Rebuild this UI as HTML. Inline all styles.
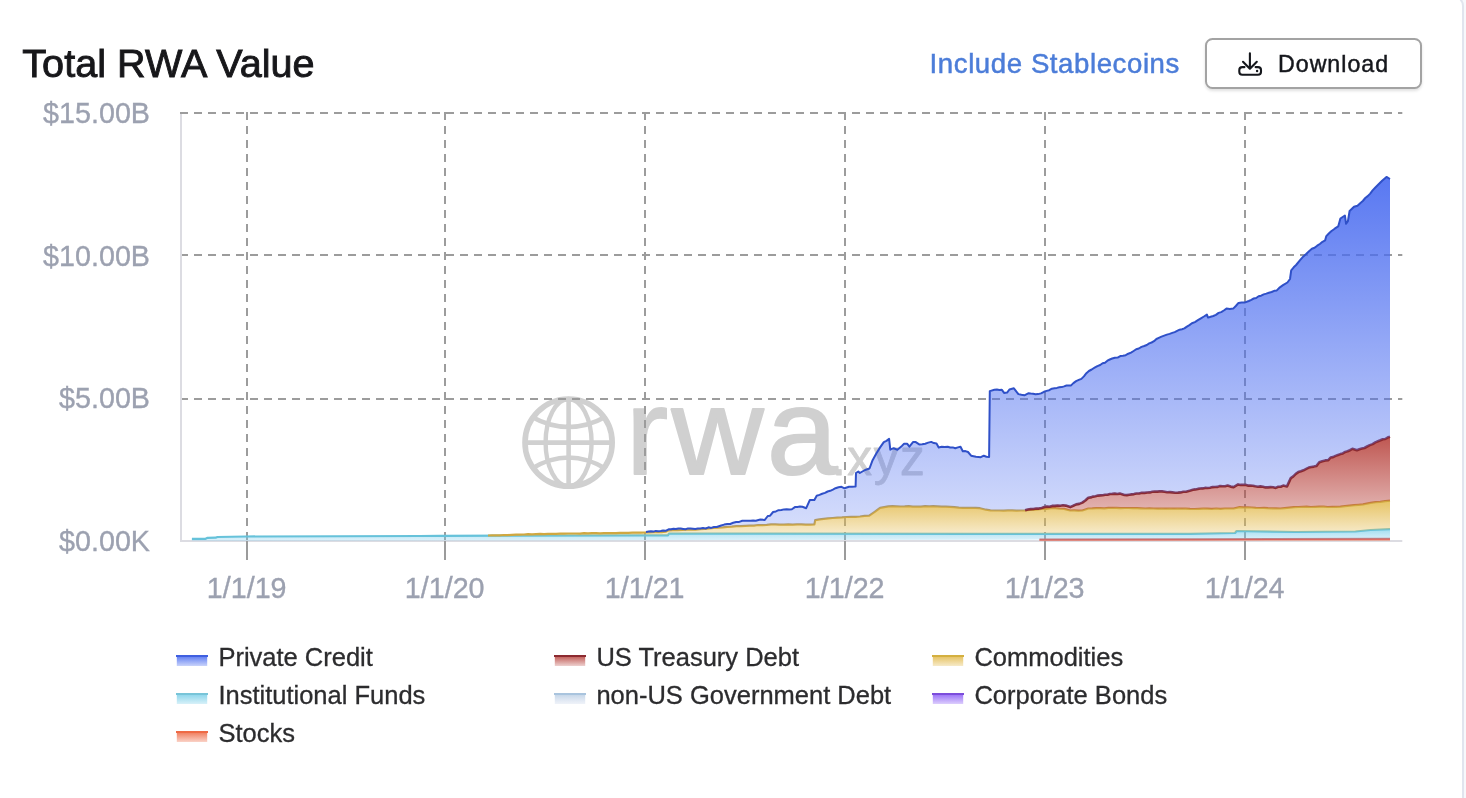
<!DOCTYPE html>
<html lang="en"><head><meta charset="utf-8"><title>Total RWA Value</title>
<style>
html,body{margin:0;padding:0}
body{width:1466px;height:798px;overflow:hidden;background:#f7f8fc;position:relative;font-family:"Liberation Sans",sans-serif}
.card{position:absolute;left:-20px;top:-5px;width:1484px;height:900px;background:#fff;border:2px solid #e1e4ee;border-radius:0 11px 0 0;box-sizing:border-box}
h1{position:absolute;left:22.3px;top:40px;margin:0;font-size:39.6px;line-height:46px;font-weight:400;color:#17171a;-webkit-text-stroke:0.9px #17171a;letter-spacing:0.03px;white-space:nowrap}
.inc{position:absolute;left:929.6px;top:47.6px;font-size:27.6px;line-height:32px;color:#4c7dd9;white-space:nowrap;-webkit-text-stroke:0.5px #4b7cd8;letter-spacing:0.58px}
.btn{position:absolute;left:1205.1px;top:38.2px;width:216.7px;height:51px;box-sizing:border-box;border:2px solid #a3a3a3;border-radius:7.5px;background:#fff;box-shadow:0 2px 3px rgba(0,0,0,.12)}
.btn span{position:absolute;left:70.9px;top:7.4px;font-size:23.2px;line-height:32px;color:#15171c;-webkit-text-stroke:0.45px #15171c;white-space:nowrap;letter-spacing:1px}
.btn svg{position:absolute;left:31px;top:11px}
svg.chart{position:absolute;left:0;top:0}
</style></head><body>
<div class="card"></div>
<h1>Total RWA Value</h1>
<div class="inc">Include Stablecoins</div>
<div class="btn"><span>Download</span></div>
<svg class="chart" width="1466" height="798" viewBox="0 0 1466 798" font-family="Liberation Sans, sans-serif">
<defs>
<linearGradient id="gBlue" x1="0" y1="0" x2="0" y2="1"><stop offset="0" stop-color="#4a6cf0" stop-opacity=".92"/><stop offset="1" stop-color="#4a6cf0" stop-opacity=".22"/></linearGradient>
<linearGradient id="gRed" x1="0" y1="0" x2="0" y2="1"><stop offset="0" stop-color="#b8443e" stop-opacity=".9"/><stop offset="1" stop-color="#b8443e" stop-opacity=".4"/></linearGradient>
<linearGradient id="gYel" x1="0" y1="0" x2="0" y2="1"><stop offset="0" stop-color="#e2b94a" stop-opacity=".85"/><stop offset="1" stop-color="#e2b94a" stop-opacity=".25"/></linearGradient>
<linearGradient id="gCy" x1="0" y1="0" x2="0" y2="1"><stop offset="0" stop-color="#62c6e4" stop-opacity=".6"/><stop offset="1" stop-color="#7fcdf0" stop-opacity=".25"/></linearGradient>
<linearGradient id="gSt" x1="0" y1="0" x2="0" y2="1"><stop offset="0" stop-color="#ee6a45" stop-opacity=".8"/><stop offset="1" stop-color="#ee6a45" stop-opacity=".3"/></linearGradient>
<linearGradient id="lgBlue" x1="0" y1="0" x2="0" y2="1"><stop offset="0" stop-color="#4a6cf0" stop-opacity=".95"/><stop offset="1" stop-color="#4a6cf0" stop-opacity=".3"/></linearGradient>
<linearGradient id="lgRed" x1="0" y1="0" x2="0" y2="1"><stop offset="0" stop-color="#b8443e" stop-opacity=".95"/><stop offset="1" stop-color="#b8443e" stop-opacity=".25"/></linearGradient>
<linearGradient id="lgYel" x1="0" y1="0" x2="0" y2="1"><stop offset="0" stop-color="#e2b94a" stop-opacity=".95"/><stop offset="1" stop-color="#e2b94a" stop-opacity=".3"/></linearGradient>
<linearGradient id="lgCy" x1="0" y1="0" x2="0" y2="1"><stop offset="0" stop-color="#62c6e4" stop-opacity=".8"/><stop offset="1" stop-color="#62c6e4" stop-opacity=".25"/></linearGradient>
<linearGradient id="lgNon" x1="0" y1="0" x2="0" y2="1"><stop offset="0" stop-color="#a9c4de" stop-opacity=".8"/><stop offset="1" stop-color="#c9d4ea" stop-opacity=".3"/></linearGradient>
<linearGradient id="lgCorp" x1="0" y1="0" x2="0" y2="1"><stop offset="0" stop-color="#8b5cf6" stop-opacity=".95"/><stop offset="1" stop-color="#8b5cf6" stop-opacity=".3"/></linearGradient>
<linearGradient id="lgSt" x1="0" y1="0" x2="0" y2="1"><stop offset="0" stop-color="#ee6a45" stop-opacity=".95"/><stop offset="1" stop-color="#ee6a45" stop-opacity=".3"/></linearGradient>
</defs>
<g fill="#d0d0d0" stroke="#d0d0d0" stroke-linejoin="round"><text transform="translate(625.7,474.4) scale(1.045,1)" x="0" y="0" font-size="122" letter-spacing="3.1" stroke-width="1.8">rwa</text><text x="832" y="474.6" font-size="49.5" letter-spacing="1.6" stroke-width="0.8">.xyz</text></g>
<g fill="none" stroke="#d0d0d0"><circle cx="568.6" cy="442.6" r="43.6" stroke-width="5.6"/><ellipse cx="568.6" cy="442.6" rx="23" ry="43.6" stroke-width="4.4"/><path d="M568.6 399V486.2M525 442.6H612.2M531 416.5Q568.6 437.5 606.2 416.5M531 469Q568.6 446 606.2 469" stroke-width="4.6"/></g>
<g stroke="#9c9c9c" stroke-width="2" stroke-dasharray="8 6" fill="none"><line x1="180" x2="1402.3" y1="113.00" y2="113.00"/><line x1="180" x2="1402.3" y1="255.00" y2="255.00"/><line x1="180" x2="1402.3" y1="399.00" y2="399.00"/><line x1="247" x2="247" y1="112" y2="541"/><line x1="445" x2="445" y1="112" y2="541"/><line x1="645" x2="645" y1="112" y2="541"/><line x1="845" x2="845" y1="112" y2="541"/><line x1="1045" x2="1045" y1="112" y2="541"/><line x1="1245" x2="1245" y1="112" y2="541"/></g>
<g stroke="#dcdce2" stroke-width="2" fill="none"><line x1="181" x2="181" y1="114" y2="542"/><line x1="180" x2="1402.3" y1="541" y2="541"/></g>
<g stroke="#9b9b9b" stroke-width="2"><line x1="247" x2="247" y1="541" y2="560"/><line x1="445" x2="445" y1="541" y2="560"/><line x1="645" x2="645" y1="541" y2="560"/><line x1="845" x2="845" y1="541" y2="560"/><line x1="1045" x2="1045" y1="541" y2="560"/><line x1="1245" x2="1245" y1="541" y2="560"/></g>
<path d="M1039.4,539.6 L1200.0,539.2 L1390.0,538.8 L1390.0,541.0 L1039.4,541.0 Z" fill="url(#gSt)"/><path d="M1039.4,539.6 L1200.0,539.2 L1390.0,538.8" fill="none" stroke="#d9605a" stroke-width="2"/>
<path d="M191.9,538.8 L205.6,538.8 L207.6,537.8 L215.6,537.7 L217.4,537.0 L245.5,536.5 L420.0,536.0 L440.0,535.9 L640.0,535.3 L668.0,535.3 L669.0,533.5 L980.0,533.8 L1190.0,533.8 L1235.1,533.0 L1236.6,531.0 L1295.3,532.0 L1355.4,531.5 L1370.5,530.0 L1390.0,529.2 L1390.0,538.8 L1200.0,539.2 L1039.4,539.6 L191.9,541.0 Z" fill="url(#gCy)"/><path d="M191.9,538.8 L205.6,538.8 L207.6,537.8 L215.6,537.7 L217.4,537.0 L245.5,536.5 L420.0,536.0 L440.0,535.9 L640.0,535.3 L668.0,535.3 L669.0,533.5 L980.0,533.8 L1190.0,533.8 L1235.1,533.0 L1236.6,531.0 L1295.3,532.0 L1355.4,531.5 L1370.5,530.0 L1390.0,529.2" fill="none" stroke="#66c2da" stroke-width="2.2" stroke-linejoin="round"/>
<path d="M488.0,535.5 L492.0,535.4 L496.0,535.3 L500.0,535.4 L504.0,535.0 L508.0,535.1 L512.0,534.8 L516.0,534.7 L520.0,534.6 L524.0,534.5 L528.0,534.2 L532.0,534.3 L536.0,534.1 L540.0,533.9 L544.0,534.2 L548.0,533.8 L552.0,533.9 L556.0,533.9 L560.0,533.7 L564.0,533.7 L568.0,533.5 L572.0,533.5 L576.0,533.5 L580.0,533.6 L584.0,533.2 L588.0,533.4 L592.0,533.1 L596.0,533.1 L600.0,533.3 L604.0,533.1 L608.0,533.1 L612.0,533.1 L616.0,533.2 L620.0,532.9 L624.2,532.8 L628.3,532.8 L632.5,532.7 L636.7,532.6 L640.8,532.7 L645.0,532.5 L649.1,532.3 L653.2,532.2 L657.4,532.0 L661.5,532.1 L665.6,531.7 L668.6,530.3 L673.1,530.2 L677.6,530.2 L682.1,530.0 L686.5,529.6 L691.0,529.5 L695.5,529.6 L700.0,529.2 L704.5,529.0 L709.1,528.3 L713.7,527.9 L718.2,527.7 L722.7,527.4 L727.2,526.9 L731.8,526.6 L736.3,526.2 L740.8,526.2 L745.3,525.8 L749.6,525.7 L753.9,525.6 L758.2,525.0 L762.4,525.1 L766.7,524.9 L771.0,524.4 L775.3,524.4 L779.6,524.6 L784.0,524.6 L788.3,524.3 L792.7,524.6 L797.0,524.3 L801.4,524.4 L805.7,524.6 L810.1,524.6 L814.4,524.4 L815.2,520.2 L819.5,519.4 L823.7,518.9 L828.0,518.3 L832.6,518.0 L837.3,517.6 L841.9,517.4 L846.4,517.0 L851.0,516.9 L855.5,516.8 L860.0,516.5 L864.6,515.9 L869.2,515.7 L874.7,511.8 L880.1,507.8 L884.2,507.1 L888.3,506.4 L892.4,506.2 L896.5,506.3 L900.6,506.5 L904.7,506.4 L908.8,506.2 L912.8,506.6 L916.9,506.5 L921.0,506.6 L925.1,506.2 L929.2,506.3 L933.3,506.2 L937.4,506.4 L941.7,506.7 L946.0,506.7 L950.3,506.8 L954.5,507.2 L958.8,507.6 L963.1,507.8 L967.4,507.8 L971.6,507.8 L975.8,507.9 L980.0,508.2 L986.0,509.7 L990.5,510.3 L995.0,510.5 L999.3,510.5 L1003.6,510.6 L1007.9,510.3 L1012.2,510.3 L1016.5,510.6 L1020.8,510.5 L1025.1,510.5 L1029.2,509.9 L1033.4,509.9 L1037.5,509.4 L1041.7,508.9 L1046.2,508.8 L1050.7,508.2 L1055.2,508.2 L1059.7,508.7 L1064.2,508.9 L1070.2,510.5 L1074.2,510.3 L1078.3,510.7 L1082.3,510.5 L1088.3,508.5 L1092.3,508.4 L1096.3,508.2 L1100.3,508.2 L1104.3,508.3 L1108.3,507.9 L1112.3,507.9 L1116.4,507.8 L1120.6,508.1 L1124.7,508.0 L1128.8,508.0 L1133.0,508.1 L1137.1,508.1 L1141.3,508.3 L1145.4,508.5 L1149.5,508.4 L1153.5,508.5 L1157.6,508.7 L1161.6,508.5 L1165.7,508.7 L1169.7,508.6 L1173.8,508.7 L1177.8,508.5 L1181.9,508.7 L1185.9,508.6 L1190.0,508.9 L1194.4,509.0 L1198.7,508.8 L1203.1,508.6 L1207.4,508.7 L1211.8,508.9 L1216.2,508.5 L1220.5,508.8 L1224.9,508.5 L1229.2,508.5 L1233.6,508.5 L1239.6,507.1 L1243.7,507.4 L1247.7,507.3 L1251.8,507.5 L1255.8,507.8 L1259.9,508.0 L1264.0,507.9 L1268.0,508.2 L1272.1,508.3 L1276.1,508.4 L1280.2,508.5 L1284.7,508.1 L1289.2,507.7 L1293.8,507.2 L1298.3,507.0 L1302.5,506.8 L1306.7,506.7 L1310.9,507.0 L1315.1,506.8 L1319.3,506.7 L1323.6,506.6 L1327.8,507.0 L1332.0,506.9 L1336.2,506.8 L1340.4,506.7 L1344.9,506.1 L1349.4,505.7 L1354.0,505.2 L1358.5,504.8 L1363.0,504.4 L1370.5,502.9 L1375.4,502.2 L1380.2,501.8 L1385.1,501.1 L1390.0,500.7 L1390.0,529.2 L1370.5,530.0 L1355.4,531.5 L1295.3,532.0 L1236.6,531.0 L1235.1,533.0 L1200.0,533.6 L1190.0,533.8 L1039.4,533.8 L980.0,533.8 L669.0,533.5 L668.0,535.3 L640.0,535.3 L488.0,535.8 Z" fill="url(#gYel)"/><path d="M488.0,535.5 L492.0,535.4 L496.0,535.3 L500.0,535.4 L504.0,535.0 L508.0,535.1 L512.0,534.8 L516.0,534.7 L520.0,534.6 L524.0,534.5 L528.0,534.2 L532.0,534.3 L536.0,534.1 L540.0,533.9 L544.0,534.2 L548.0,533.8 L552.0,533.9 L556.0,533.9 L560.0,533.7 L564.0,533.7 L568.0,533.5 L572.0,533.5 L576.0,533.5 L580.0,533.6 L584.0,533.2 L588.0,533.4 L592.0,533.1 L596.0,533.1 L600.0,533.3 L604.0,533.1 L608.0,533.1 L612.0,533.1 L616.0,533.2 L620.0,532.9 L624.2,532.8 L628.3,532.8 L632.5,532.7 L636.7,532.6 L640.8,532.7 L645.0,532.5 L649.1,532.3 L653.2,532.2 L657.4,532.0 L661.5,532.1 L665.6,531.7 L668.6,530.3 L673.1,530.2 L677.6,530.2 L682.1,530.0 L686.5,529.6 L691.0,529.5 L695.5,529.6 L700.0,529.2 L704.5,529.0 L709.1,528.3 L713.7,527.9 L718.2,527.7 L722.7,527.4 L727.2,526.9 L731.8,526.6 L736.3,526.2 L740.8,526.2 L745.3,525.8 L749.6,525.7 L753.9,525.6 L758.2,525.0 L762.4,525.1 L766.7,524.9 L771.0,524.4 L775.3,524.4 L779.6,524.6 L784.0,524.6 L788.3,524.3 L792.7,524.6 L797.0,524.3 L801.4,524.4 L805.7,524.6 L810.1,524.6 L814.4,524.4 L815.2,520.2 L819.5,519.4 L823.7,518.9 L828.0,518.3 L832.6,518.0 L837.3,517.6 L841.9,517.4 L846.4,517.0 L851.0,516.9 L855.5,516.8 L860.0,516.5 L864.6,515.9 L869.2,515.7 L874.7,511.8 L880.1,507.8 L884.2,507.1 L888.3,506.4 L892.4,506.2 L896.5,506.3 L900.6,506.5 L904.7,506.4 L908.8,506.2 L912.8,506.6 L916.9,506.5 L921.0,506.6 L925.1,506.2 L929.2,506.3 L933.3,506.2 L937.4,506.4 L941.7,506.7 L946.0,506.7 L950.3,506.8 L954.5,507.2 L958.8,507.6 L963.1,507.8 L967.4,507.8 L971.6,507.8 L975.8,507.9 L980.0,508.2 L986.0,509.7 L990.5,510.3 L995.0,510.5 L999.3,510.5 L1003.6,510.6 L1007.9,510.3 L1012.2,510.3 L1016.5,510.6 L1020.8,510.5 L1025.1,510.5 L1029.2,509.9 L1033.4,509.9 L1037.5,509.4 L1041.7,508.9 L1046.2,508.8 L1050.7,508.2 L1055.2,508.2 L1059.7,508.7 L1064.2,508.9 L1070.2,510.5 L1074.2,510.3 L1078.3,510.7 L1082.3,510.5 L1088.3,508.5 L1092.3,508.4 L1096.3,508.2 L1100.3,508.2 L1104.3,508.3 L1108.3,507.9 L1112.3,507.9 L1116.4,507.8 L1120.6,508.1 L1124.7,508.0 L1128.8,508.0 L1133.0,508.1 L1137.1,508.1 L1141.3,508.3 L1145.4,508.5 L1149.5,508.4 L1153.5,508.5 L1157.6,508.7 L1161.6,508.5 L1165.7,508.7 L1169.7,508.6 L1173.8,508.7 L1177.8,508.5 L1181.9,508.7 L1185.9,508.6 L1190.0,508.9 L1194.4,509.0 L1198.7,508.8 L1203.1,508.6 L1207.4,508.7 L1211.8,508.9 L1216.2,508.5 L1220.5,508.8 L1224.9,508.5 L1229.2,508.5 L1233.6,508.5 L1239.6,507.1 L1243.7,507.4 L1247.7,507.3 L1251.8,507.5 L1255.8,507.8 L1259.9,508.0 L1264.0,507.9 L1268.0,508.2 L1272.1,508.3 L1276.1,508.4 L1280.2,508.5 L1284.7,508.1 L1289.2,507.7 L1293.8,507.2 L1298.3,507.0 L1302.5,506.8 L1306.7,506.7 L1310.9,507.0 L1315.1,506.8 L1319.3,506.7 L1323.6,506.6 L1327.8,507.0 L1332.0,506.9 L1336.2,506.8 L1340.4,506.7 L1344.9,506.1 L1349.4,505.7 L1354.0,505.2 L1358.5,504.8 L1363.0,504.4 L1370.5,502.9 L1375.4,502.2 L1380.2,501.8 L1385.1,501.1 L1390.0,500.7" fill="none" stroke="#d0a840" stroke-width="2.2" stroke-linejoin="round"/>
<path d="M1025.1,510.3 L1027.9,509.5 L1030.6,509.1 L1033.4,509.0 L1036.2,508.5 L1038.9,508.6 L1041.7,507.9 L1044.3,507.1 L1047.0,506.5 L1049.6,506.8 L1052.2,505.9 L1054.9,505.9 L1057.6,505.5 L1060.3,505.8 L1063.0,505.2 L1065.7,505.6 L1070.2,507.1 L1073.2,505.8 L1076.2,504.4 L1079.2,503.9 L1082.3,502.6 L1085.3,500.5 L1088.3,497.7 L1090.7,497.4 L1093.1,496.6 L1095.5,496.2 L1097.9,495.6 L1100.3,495.4 L1102.7,495.3 L1105.1,494.8 L1107.5,494.8 L1109.9,494.0 L1112.3,493.9 L1114.8,493.6 L1117.3,494.0 L1119.8,493.6 L1124.4,495.0 L1126.8,495.1 L1129.2,494.7 L1131.6,494.4 L1134.0,494.1 L1136.4,493.5 L1139.1,493.5 L1141.8,492.8 L1144.5,492.9 L1147.2,492.5 L1149.9,492.4 L1152.3,491.8 L1154.7,491.6 L1157.2,491.6 L1159.6,491.4 L1162.0,491.4 L1164.6,491.8 L1167.2,492.3 L1169.9,492.1 L1172.5,492.4 L1175.2,492.7 L1177.9,492.6 L1180.6,492.4 L1183.3,491.7 L1186.0,491.7 L1190.5,490.5 L1192.9,489.8 L1195.3,489.4 L1197.8,488.9 L1200.2,488.5 L1202.6,488.4 L1205.0,487.9 L1207.5,488.0 L1210.0,487.7 L1212.5,487.1 L1215.0,487.0 L1217.6,486.9 L1220.1,486.0 L1222.6,486.3 L1225.1,486.2 L1227.6,485.6 L1230.6,486.6 L1233.6,487.1 L1238.1,484.4 L1240.5,484.9 L1242.9,484.9 L1245.4,484.8 L1247.8,485.6 L1250.2,485.6 L1252.8,485.7 L1255.3,486.3 L1257.9,486.7 L1260.4,486.4 L1263.0,486.7 L1265.5,487.4 L1268.0,487.4 L1270.6,487.1 L1273.2,487.3 L1275.7,487.9 L1278.2,486.8 L1280.7,486.7 L1283.2,485.6 L1287.0,486.4 L1290.8,478.1 L1293.3,476.4 L1295.8,473.8 L1298.3,472.1 L1300.9,471.3 L1303.5,470.3 L1306.2,468.9 L1308.8,467.6 L1311.3,467.0 L1313.8,466.6 L1316.3,466.1 L1319.3,462.3 L1322.3,461.2 L1325.3,460.4 L1328.3,460.1 L1330.6,457.5 L1333.0,457.1 L1335.5,455.9 L1338.0,455.0 L1340.4,454.1 L1342.8,453.4 L1345.2,451.9 L1347.6,451.3 L1350.0,450.2 L1352.4,448.8 L1356.9,450.3 L1359.4,449.3 L1361.9,448.5 L1364.4,448.0 L1367.1,446.5 L1369.8,445.1 L1372.6,444.1 L1375.3,442.4 L1378.0,441.3 L1380.4,440.3 L1382.8,439.2 L1385.2,439.0 L1387.6,437.6 L1390.0,436.8 L1390.0,500.7 L1385.1,501.1 L1380.2,501.8 L1375.4,502.2 L1370.5,502.9 L1363.0,504.4 L1358.5,504.8 L1355.4,505.1 L1354.0,505.2 L1349.4,505.7 L1344.9,506.1 L1340.4,506.7 L1336.2,506.8 L1332.0,506.9 L1327.8,507.0 L1323.6,506.6 L1319.3,506.7 L1315.1,506.8 L1310.9,507.0 L1306.7,506.7 L1302.5,506.8 L1298.3,507.0 L1295.3,507.1 L1293.8,507.2 L1289.2,507.7 L1284.7,508.1 L1280.2,508.5 L1276.1,508.4 L1272.1,508.3 L1268.0,508.2 L1264.0,507.9 L1259.9,508.0 L1255.8,507.8 L1251.8,507.5 L1247.7,507.3 L1243.7,507.4 L1239.6,507.1 L1236.6,507.8 L1235.1,508.1 L1233.6,508.5 L1229.2,508.5 L1224.9,508.5 L1220.5,508.8 L1216.2,508.5 L1211.8,508.9 L1207.4,508.7 L1203.1,508.6 L1200.0,508.8 L1198.7,508.8 L1194.4,509.0 L1190.0,508.9 L1185.9,508.6 L1181.9,508.7 L1177.8,508.5 L1173.8,508.7 L1169.7,508.6 L1165.7,508.7 L1161.6,508.5 L1157.6,508.7 L1153.5,508.5 L1149.5,508.4 L1145.4,508.5 L1141.3,508.3 L1137.1,508.1 L1133.0,508.1 L1128.8,508.0 L1124.7,508.0 L1120.6,508.1 L1116.4,507.8 L1112.3,507.9 L1108.3,507.9 L1104.3,508.3 L1100.3,508.2 L1096.3,508.2 L1092.3,508.4 L1088.3,508.5 L1082.3,510.5 L1078.3,510.7 L1074.2,510.3 L1070.2,510.5 L1064.2,508.9 L1059.7,508.7 L1055.2,508.2 L1050.7,508.2 L1046.2,508.8 L1041.7,508.9 L1039.4,509.2 L1037.5,509.4 L1033.4,509.9 L1029.2,509.9 L1025.1,510.5 Z" fill="url(#gRed)"/><path d="M1025.1,510.3 L1027.9,509.5 L1030.6,509.1 L1033.4,509.0 L1036.2,508.5 L1038.9,508.6 L1041.7,507.9 L1044.3,507.1 L1047.0,506.5 L1049.6,506.8 L1052.2,505.9 L1054.9,505.9 L1057.6,505.5 L1060.3,505.8 L1063.0,505.2 L1065.7,505.6 L1070.2,507.1 L1073.2,505.8 L1076.2,504.4 L1079.2,503.9 L1082.3,502.6 L1085.3,500.5 L1088.3,497.7 L1090.7,497.4 L1093.1,496.6 L1095.5,496.2 L1097.9,495.6 L1100.3,495.4 L1102.7,495.3 L1105.1,494.8 L1107.5,494.8 L1109.9,494.0 L1112.3,493.9 L1114.8,493.6 L1117.3,494.0 L1119.8,493.6 L1124.4,495.0 L1126.8,495.1 L1129.2,494.7 L1131.6,494.4 L1134.0,494.1 L1136.4,493.5 L1139.1,493.5 L1141.8,492.8 L1144.5,492.9 L1147.2,492.5 L1149.9,492.4 L1152.3,491.8 L1154.7,491.6 L1157.2,491.6 L1159.6,491.4 L1162.0,491.4 L1164.6,491.8 L1167.2,492.3 L1169.9,492.1 L1172.5,492.4 L1175.2,492.7 L1177.9,492.6 L1180.6,492.4 L1183.3,491.7 L1186.0,491.7 L1190.5,490.5 L1192.9,489.8 L1195.3,489.4 L1197.8,488.9 L1200.2,488.5 L1202.6,488.4 L1205.0,487.9 L1207.5,488.0 L1210.0,487.7 L1212.5,487.1 L1215.0,487.0 L1217.6,486.9 L1220.1,486.0 L1222.6,486.3 L1225.1,486.2 L1227.6,485.6 L1230.6,486.6 L1233.6,487.1 L1238.1,484.4 L1240.5,484.9 L1242.9,484.9 L1245.4,484.8 L1247.8,485.6 L1250.2,485.6 L1252.8,485.7 L1255.3,486.3 L1257.9,486.7 L1260.4,486.4 L1263.0,486.7 L1265.5,487.4 L1268.0,487.4 L1270.6,487.1 L1273.2,487.3 L1275.7,487.9 L1278.2,486.8 L1280.7,486.7 L1283.2,485.6 L1287.0,486.4 L1290.8,478.1 L1293.3,476.4 L1295.8,473.8 L1298.3,472.1 L1300.9,471.3 L1303.5,470.3 L1306.2,468.9 L1308.8,467.6 L1311.3,467.0 L1313.8,466.6 L1316.3,466.1 L1319.3,462.3 L1322.3,461.2 L1325.3,460.4 L1328.3,460.1 L1330.6,457.5 L1333.0,457.1 L1335.5,455.9 L1338.0,455.0 L1340.4,454.1 L1342.8,453.4 L1345.2,451.9 L1347.6,451.3 L1350.0,450.2 L1352.4,448.8 L1356.9,450.3 L1359.4,449.3 L1361.9,448.5 L1364.4,448.0 L1367.1,446.5 L1369.8,445.1 L1372.6,444.1 L1375.3,442.4 L1378.0,441.3 L1380.4,440.3 L1382.8,439.2 L1385.2,439.0 L1387.6,437.6 L1390.0,436.8" fill="none" stroke="#8c2a30" stroke-width="2.6" stroke-linejoin="round"/>
<path d="M646.0,531.9 L648.5,531.6 L650.9,531.3 L653.4,531.6 L655.8,530.9 L658.2,531.2 L660.7,530.9 L663.1,530.5 L665.6,530.8 L668.6,529.3 L671.0,529.2 L673.5,528.7 L675.9,529.0 L678.3,528.6 L680.8,528.6 L683.2,528.9 L685.6,529.2 L688.0,528.4 L690.5,528.5 L692.9,528.8 L695.3,529.1 L697.8,528.6 L700.2,528.5 L703.0,528.1 L705.7,528.5 L708.5,527.3 L711.2,527.9 L714.0,527.0 L716.7,527.0 L721.2,525.5 L724.2,524.6 L727.2,524.1 L730.2,524.0 L733.2,522.8 L736.2,522.0 L739.2,521.9 L742.3,520.8 L745.3,520.7 L747.9,520.8 L750.5,520.8 L753.2,520.6 L755.8,520.7 L760.3,519.5 L764.8,519.9 L767.8,516.0 L770.1,515.7 L773.1,512.0 L775.9,511.4 L778.6,510.2 L781.4,510.0 L784.0,509.4 L786.6,509.3 L789.3,509.6 L791.9,509.2 L794.9,507.1 L797.4,506.9 L799.9,506.6 L802.4,506.7 L806.2,508.2 L809.9,499.9 L814.4,499.9 L816.7,495.7 L819.5,494.9 L822.2,493.8 L825.0,492.9 L827.6,491.5 L830.2,490.8 L832.9,489.6 L835.5,488.2 L838.5,487.2 L841.5,486.8 L844.5,488.3 L849.0,486.8 L852.0,486.7 L855.0,486.4 L855.6,486.4 L856.0,473.0 L858.3,471.5 L859.8,473.0 L862.4,471.5 L865.0,470.0 L869.5,468.5 L872.6,460.2 L876.3,453.5 L880.1,447.4 L883.8,442.2 L886.5,440.9 L889.1,438.9 L890.3,449.7 L893.6,448.2 L897.4,449.7 L901.9,445.9 L904.1,443.7 L907.1,443.7 L909.4,446.7 L913.2,441.9 L915.4,441.9 L919.2,444.4 L922.2,444.3 L925.2,443.7 L928.2,442.6 L931.2,441.9 L933.9,443.1 L936.5,443.4 L938.7,447.4 L941.7,446.8 L944.7,446.9 L947.7,446.7 L950.2,447.5 L952.8,447.4 L955.3,448.2 L957.9,447.4 L960.5,446.7 L962.8,451.2 L965.4,451.1 L968.0,452.0 L971.1,455.7 L973.5,456.2 L976.0,456.7 L978.4,456.9 L980.8,457.2 L983.8,455.7 L986.5,456.7 L989.1,456.9 L989.8,391.1 L994.4,389.8 L996.9,389.6 L999.4,390.0 L1001.9,389.8 L1004.1,392.9 L1007.1,392.6 L1009.4,389.5 L1013.9,388.3 L1018.4,394.1 L1021.4,394.8 L1024.4,395.3 L1028.2,393.3 L1030.7,393.6 L1033.1,393.7 L1035.5,394.2 L1038.0,394.1 L1041.0,393.4 L1044.0,391.8 L1046.6,390.9 L1049.2,390.2 L1051.9,388.7 L1054.5,388.3 L1056.9,387.9 L1059.3,387.3 L1061.7,387.1 L1064.1,386.4 L1066.5,385.5 L1070.8,385.6 L1073.4,383.1 L1076.1,381.1 L1078.8,379.9 L1081.4,378.9 L1083.9,376.4 L1086.4,373.2 L1088.9,371.0 L1091.7,369.5 L1094.6,367.7 L1097.4,366.1 L1100.2,365.0 L1102.6,363.3 L1105.0,362.7 L1107.4,360.7 L1109.8,359.5 L1112.2,358.5 L1114.9,357.7 L1117.6,357.6 L1120.3,356.1 L1123.0,355.8 L1125.7,355.2 L1128.3,353.7 L1131.0,352.6 L1133.6,351.0 L1136.2,349.2 L1138.8,348.5 L1141.5,346.9 L1144.2,346.0 L1146.8,345.0 L1149.2,343.4 L1151.6,342.5 L1154.0,341.2 L1156.4,339.0 L1158.8,337.9 L1161.5,336.6 L1164.2,335.6 L1166.9,334.6 L1169.6,333.9 L1172.3,332.9 L1174.7,332.1 L1177.1,330.9 L1179.6,329.7 L1182.0,329.2 L1184.4,328.4 L1186.9,326.6 L1189.4,325.1 L1191.9,323.3 L1194.9,322.1 L1197.9,320.2 L1200.9,318.3 L1203.9,316.5 L1206.9,314.6 L1208.1,317.6 L1210.7,316.8 L1213.3,316.0 L1215.9,314.9 L1218.6,312.9 L1221.2,312.1 L1223.8,310.5 L1226.5,308.6 L1229.8,309.0 L1233.2,308.6 L1235.8,306.0 L1238.5,302.9 L1241.5,302.6 L1244.5,302.6 L1248.8,301.0 L1251.3,299.8 L1253.7,298.5 L1256.2,298.0 L1258.6,296.3 L1261.1,295.7 L1263.7,294.4 L1266.3,293.6 L1268.9,292.7 L1271.6,292.0 L1274.2,290.8 L1276.8,290.4 L1279.9,287.3 L1283.0,285.2 L1287.4,282.5 L1290.0,279.0 L1291.2,270.3 L1293.7,267.3 L1296.1,265.0 L1300.5,259.7 L1303.4,256.4 L1306.4,253.8 L1309.3,251.0 L1311.9,248.8 L1314.6,247.8 L1317.2,245.7 L1319.8,244.0 L1322.5,241.8 L1325.1,240.4 L1326.3,236.1 L1328.8,233.5 L1331.2,231.3 L1334.7,228.7 L1338.2,226.4 L1340.4,218.5 L1344.9,215.5 L1346.1,223.8 L1347.9,221.1 L1349.6,211.0 L1354.0,206.8 L1357.5,205.7 L1360.2,203.2 L1362.8,201.0 L1365.3,198.0 L1367.7,196.1 L1370.2,193.6 L1372.6,190.4 L1375.1,187.8 L1378.6,184.3 L1382.1,180.8 L1386.5,176.9 L1390.0,179.0 L1390.0,436.8 L1387.6,437.6 L1385.2,439.0 L1385.1,439.0 L1382.8,439.2 L1380.4,440.3 L1380.2,440.4 L1378.0,441.3 L1375.4,442.4 L1375.3,442.4 L1372.6,444.1 L1370.5,444.8 L1369.8,445.1 L1367.1,446.5 L1364.4,448.0 L1363.0,448.3 L1361.9,448.5 L1359.4,449.3 L1358.5,449.7 L1356.9,450.3 L1355.4,449.8 L1354.0,449.3 L1352.4,448.8 L1350.0,450.2 L1349.4,450.4 L1347.6,451.3 L1345.2,451.9 L1344.9,452.1 L1342.8,453.4 L1340.4,454.1 L1338.0,455.0 L1336.2,455.7 L1335.5,455.9 L1333.0,457.1 L1332.0,457.3 L1330.6,457.5 L1328.3,460.1 L1327.8,460.2 L1325.3,460.4 L1323.6,460.9 L1322.3,461.2 L1319.3,462.3 L1319.3,462.3 L1316.3,466.1 L1315.1,466.4 L1313.8,466.6 L1311.3,467.0 L1310.9,467.1 L1308.8,467.6 L1306.7,468.6 L1306.2,468.9 L1303.5,470.3 L1302.5,470.7 L1300.9,471.3 L1298.3,472.1 L1295.8,473.8 L1295.3,474.3 L1293.8,475.9 L1293.3,476.4 L1290.8,478.1 L1289.2,481.5 L1287.0,486.4 L1284.7,485.9 L1283.2,485.6 L1280.7,486.7 L1280.2,486.7 L1278.2,486.8 L1276.1,487.7 L1275.7,487.9 L1273.2,487.3 L1272.1,487.3 L1270.6,487.1 L1268.0,487.4 L1268.0,487.4 L1265.5,487.4 L1264.0,486.9 L1263.0,486.7 L1260.4,486.4 L1259.9,486.5 L1257.9,486.7 L1255.8,486.4 L1255.3,486.3 L1252.8,485.7 L1251.8,485.6 L1250.2,485.6 L1247.8,485.6 L1247.7,485.6 L1245.4,484.8 L1243.7,484.9 L1242.9,484.9 L1240.5,484.9 L1239.6,484.7 L1238.1,484.4 L1236.6,485.3 L1235.1,486.2 L1233.6,487.1 L1230.6,486.6 L1229.2,486.1 L1227.6,485.6 L1225.1,486.2 L1224.9,486.2 L1222.6,486.3 L1220.5,486.0 L1220.1,486.0 L1217.6,486.9 L1216.2,487.0 L1215.0,487.0 L1212.5,487.1 L1211.8,487.3 L1210.0,487.7 L1207.5,488.0 L1207.4,488.0 L1205.0,487.9 L1203.1,488.3 L1202.6,488.4 L1200.2,488.5 L1200.0,488.5 L1198.7,488.8 L1197.8,488.9 L1195.3,489.4 L1194.4,489.6 L1192.9,489.8 L1190.5,490.5 L1190.0,490.6 L1186.0,491.7 L1185.9,491.7 L1183.3,491.7 L1181.9,492.1 L1180.6,492.4 L1177.9,492.6 L1177.8,492.6 L1175.2,492.7 L1173.8,492.5 L1172.5,492.4 L1169.9,492.1 L1169.7,492.1 L1167.2,492.3 L1165.7,492.0 L1164.6,491.8 L1162.0,491.4 L1161.6,491.4 L1159.6,491.4 L1157.6,491.6 L1157.2,491.6 L1154.7,491.6 L1153.5,491.7 L1152.3,491.8 L1149.9,492.4 L1149.5,492.4 L1147.2,492.5 L1145.4,492.7 L1144.5,492.9 L1141.8,492.8 L1141.3,492.9 L1139.1,493.5 L1137.1,493.5 L1136.4,493.5 L1134.0,494.1 L1133.0,494.2 L1131.6,494.4 L1129.2,494.7 L1128.8,494.8 L1126.8,495.1 L1124.7,495.0 L1124.4,495.0 L1120.6,493.8 L1119.8,493.6 L1117.3,494.0 L1116.4,493.8 L1114.8,493.6 L1112.3,493.9 L1109.9,494.0 L1108.3,494.5 L1107.5,494.8 L1105.1,494.8 L1104.3,495.0 L1102.7,495.3 L1100.3,495.4 L1097.9,495.6 L1096.3,496.0 L1095.5,496.2 L1093.1,496.6 L1092.3,496.8 L1090.7,497.4 L1088.3,497.7 L1085.3,500.5 L1082.3,502.6 L1079.2,503.9 L1078.3,504.1 L1076.2,504.4 L1074.2,505.3 L1073.2,505.8 L1070.2,507.1 L1065.7,505.6 L1064.2,505.4 L1063.0,505.2 L1060.3,505.8 L1059.7,505.7 L1057.6,505.5 L1055.2,505.8 L1054.9,505.9 L1052.2,505.9 L1050.7,506.4 L1049.6,506.8 L1047.0,506.5 L1046.2,506.6 L1044.3,507.1 L1041.7,507.9 L1039.4,508.5 L1038.9,508.6 L1037.5,508.5 L1036.2,508.5 L1033.4,509.0 L1030.6,509.1 L1029.2,509.3 L1027.9,509.5 L1025.1,510.3 L1020.8,510.5 L1016.5,510.6 L1012.2,510.3 L1007.9,510.3 L1003.6,510.6 L999.3,510.5 L995.0,510.5 L990.5,510.3 L986.0,509.7 L980.0,508.2 L975.8,507.9 L971.6,507.8 L967.4,507.8 L963.1,507.8 L958.8,507.6 L954.5,507.2 L950.3,506.8 L946.0,506.7 L941.7,506.7 L937.4,506.4 L933.3,506.2 L929.2,506.3 L925.1,506.2 L921.0,506.6 L916.9,506.5 L912.8,506.6 L908.8,506.2 L904.7,506.4 L900.6,506.5 L896.5,506.3 L892.4,506.2 L888.3,506.4 L884.2,507.1 L880.1,507.8 L874.7,511.8 L869.2,515.7 L864.6,515.9 L860.0,516.5 L855.5,516.8 L851.0,516.9 L846.4,517.0 L841.9,517.4 L837.3,517.6 L832.6,518.0 L828.0,518.3 L823.7,518.9 L819.5,519.4 L815.2,520.2 L814.4,524.4 L810.1,524.6 L805.7,524.6 L801.4,524.4 L797.0,524.3 L792.7,524.6 L788.3,524.3 L784.0,524.6 L779.6,524.6 L775.3,524.4 L771.0,524.4 L766.7,524.9 L762.4,525.1 L758.2,525.0 L753.9,525.6 L749.6,525.7 L745.3,525.8 L740.8,526.2 L736.3,526.2 L731.8,526.6 L727.2,526.9 L722.7,527.4 L718.2,527.7 L713.7,527.9 L709.1,528.3 L704.5,529.0 L700.0,529.2 L695.5,529.6 L691.0,529.5 L686.5,529.6 L682.1,530.0 L677.6,530.2 L673.1,530.2 L669.0,530.3 L668.6,530.3 L668.0,530.6 L665.6,531.7 L661.5,532.1 L657.4,532.0 L653.2,532.2 L649.1,532.3 L646.0,532.5 Z" fill="url(#gBlue)"/><path d="M646.0,531.9 L648.5,531.6 L650.9,531.3 L653.4,531.6 L655.8,530.9 L658.2,531.2 L660.7,530.9 L663.1,530.5 L665.6,530.8 L668.6,529.3 L671.0,529.2 L673.5,528.7 L675.9,529.0 L678.3,528.6 L680.8,528.6 L683.2,528.9 L685.6,529.2 L688.0,528.4 L690.5,528.5 L692.9,528.8 L695.3,529.1 L697.8,528.6 L700.2,528.5 L703.0,528.1 L705.7,528.5 L708.5,527.3 L711.2,527.9 L714.0,527.0 L716.7,527.0 L721.2,525.5 L724.2,524.6 L727.2,524.1 L730.2,524.0 L733.2,522.8 L736.2,522.0 L739.2,521.9 L742.3,520.8 L745.3,520.7 L747.9,520.8 L750.5,520.8 L753.2,520.6 L755.8,520.7 L760.3,519.5 L764.8,519.9 L767.8,516.0 L770.1,515.7 L773.1,512.0 L775.9,511.4 L778.6,510.2 L781.4,510.0 L784.0,509.4 L786.6,509.3 L789.3,509.6 L791.9,509.2 L794.9,507.1 L797.4,506.9 L799.9,506.6 L802.4,506.7 L806.2,508.2 L809.9,499.9 L814.4,499.9 L816.7,495.7 L819.5,494.9 L822.2,493.8 L825.0,492.9 L827.6,491.5 L830.2,490.8 L832.9,489.6 L835.5,488.2 L838.5,487.2 L841.5,486.8 L844.5,488.3 L849.0,486.8 L852.0,486.7 L855.0,486.4 L855.6,486.4 L856.0,473.0 L858.3,471.5 L859.8,473.0 L862.4,471.5 L865.0,470.0 L869.5,468.5 L872.6,460.2 L876.3,453.5 L880.1,447.4 L883.8,442.2 L886.5,440.9 L889.1,438.9 L890.3,449.7 L893.6,448.2 L897.4,449.7 L901.9,445.9 L904.1,443.7 L907.1,443.7 L909.4,446.7 L913.2,441.9 L915.4,441.9 L919.2,444.4 L922.2,444.3 L925.2,443.7 L928.2,442.6 L931.2,441.9 L933.9,443.1 L936.5,443.4 L938.7,447.4 L941.7,446.8 L944.7,446.9 L947.7,446.7 L950.2,447.5 L952.8,447.4 L955.3,448.2 L957.9,447.4 L960.5,446.7 L962.8,451.2 L965.4,451.1 L968.0,452.0 L971.1,455.7 L973.5,456.2 L976.0,456.7 L978.4,456.9 L980.8,457.2 L983.8,455.7 L986.5,456.7 L989.1,456.9 L989.8,391.1 L994.4,389.8 L996.9,389.6 L999.4,390.0 L1001.9,389.8 L1004.1,392.9 L1007.1,392.6 L1009.4,389.5 L1013.9,388.3 L1018.4,394.1 L1021.4,394.8 L1024.4,395.3 L1028.2,393.3 L1030.7,393.6 L1033.1,393.7 L1035.5,394.2 L1038.0,394.1 L1041.0,393.4 L1044.0,391.8 L1046.6,390.9 L1049.2,390.2 L1051.9,388.7 L1054.5,388.3 L1056.9,387.9 L1059.3,387.3 L1061.7,387.1 L1064.1,386.4 L1066.5,385.5 L1070.8,385.6 L1073.4,383.1 L1076.1,381.1 L1078.8,379.9 L1081.4,378.9 L1083.9,376.4 L1086.4,373.2 L1088.9,371.0 L1091.7,369.5 L1094.6,367.7 L1097.4,366.1 L1100.2,365.0 L1102.6,363.3 L1105.0,362.7 L1107.4,360.7 L1109.8,359.5 L1112.2,358.5 L1114.9,357.7 L1117.6,357.6 L1120.3,356.1 L1123.0,355.8 L1125.7,355.2 L1128.3,353.7 L1131.0,352.6 L1133.6,351.0 L1136.2,349.2 L1138.8,348.5 L1141.5,346.9 L1144.2,346.0 L1146.8,345.0 L1149.2,343.4 L1151.6,342.5 L1154.0,341.2 L1156.4,339.0 L1158.8,337.9 L1161.5,336.6 L1164.2,335.6 L1166.9,334.6 L1169.6,333.9 L1172.3,332.9 L1174.7,332.1 L1177.1,330.9 L1179.6,329.7 L1182.0,329.2 L1184.4,328.4 L1186.9,326.6 L1189.4,325.1 L1191.9,323.3 L1194.9,322.1 L1197.9,320.2 L1200.9,318.3 L1203.9,316.5 L1206.9,314.6 L1208.1,317.6 L1210.7,316.8 L1213.3,316.0 L1215.9,314.9 L1218.6,312.9 L1221.2,312.1 L1223.8,310.5 L1226.5,308.6 L1229.8,309.0 L1233.2,308.6 L1235.8,306.0 L1238.5,302.9 L1241.5,302.6 L1244.5,302.6 L1248.8,301.0 L1251.3,299.8 L1253.7,298.5 L1256.2,298.0 L1258.6,296.3 L1261.1,295.7 L1263.7,294.4 L1266.3,293.6 L1268.9,292.7 L1271.6,292.0 L1274.2,290.8 L1276.8,290.4 L1279.9,287.3 L1283.0,285.2 L1287.4,282.5 L1290.0,279.0 L1291.2,270.3 L1293.7,267.3 L1296.1,265.0 L1300.5,259.7 L1303.4,256.4 L1306.4,253.8 L1309.3,251.0 L1311.9,248.8 L1314.6,247.8 L1317.2,245.7 L1319.8,244.0 L1322.5,241.8 L1325.1,240.4 L1326.3,236.1 L1328.8,233.5 L1331.2,231.3 L1334.7,228.7 L1338.2,226.4 L1340.4,218.5 L1344.9,215.5 L1346.1,223.8 L1347.9,221.1 L1349.6,211.0 L1354.0,206.8 L1357.5,205.7 L1360.2,203.2 L1362.8,201.0 L1365.3,198.0 L1367.7,196.1 L1370.2,193.6 L1372.6,190.4 L1375.1,187.8 L1378.6,184.3 L1382.1,180.8 L1386.5,176.9 L1390.0,179.0" fill="none" stroke="#2f50c8" stroke-width="2" stroke-linejoin="round"/>
<g fill="none" stroke="#15171c" stroke-width="2.1" stroke-linecap="round" stroke-linejoin="round"><path d="M1249.9 53.2V68.6M1243 61.8l6.9 6.9 6.9-6.9M1244.5 67.1H1242.3a3 3 0 0 0-3 3V71.8a3 3 0 0 0 3 3H1258a3 3 0 0 0 3-3V70.1a3 3 0 0 0-3-3H1255.6"/><circle cx="1257.1" cy="71" r="1.2" fill="#15171c" stroke="none"/></g>
<g fill="#9ca1b0" stroke="#9ca1b0" stroke-width="0.35" font-size="28.7"><text text-anchor="middle" x="246.7" y="598">1/1/19</text><text text-anchor="middle" x="444.7" y="598">1/1/20</text><text text-anchor="middle" x="644.7" y="598">1/1/21</text><text text-anchor="middle" x="844.7" y="598">1/1/22</text><text text-anchor="middle" x="1044.7" y="598">1/1/23</text><text text-anchor="middle" x="1244.7" y="598">1/1/24</text><text x="150" y="123.3" text-anchor="end">$15.00B</text><text x="150" y="265.7" text-anchor="end">$10.00B</text><text x="150" y="408.1" text-anchor="end">$5.00B</text><text x="150" y="551.4" text-anchor="end">$0.00K</text></g>
<g fill="#2c2c2e" stroke="#2c2c2e" stroke-width="0.3" font-size="25.5"><rect x="176.8" y="655" width="30.4" height="11" fill="url(#lgBlue)" stroke="none"/><rect x="176" y="655" width="32" height="2" fill="#3f5fe0" stroke="none"/><text x="218.4" y="665.6">Private Credit</text><rect x="554.8" y="655" width="30.4" height="11" fill="url(#lgRed)" stroke="none"/><rect x="554" y="655" width="32" height="2" fill="#8c2a30" stroke="none"/><text x="596.4" y="665.6">US Treasury Debt</text><rect x="932.8" y="655" width="30.4" height="11" fill="url(#lgYel)" stroke="none"/><rect x="932" y="655" width="32" height="2" fill="#d4b040" stroke="none"/><text x="974.4" y="665.6">Commodities</text><rect x="176.8" y="693" width="30.4" height="11" fill="url(#lgCy)" stroke="none"/><rect x="176" y="693" width="32" height="2" fill="#78c4d8" stroke="none"/><text x="218.4" y="703.6">Institutional Funds</text><rect x="554.8" y="693" width="30.4" height="11" fill="url(#lgNon)" stroke="none"/><rect x="554" y="693" width="32" height="2" fill="#a9c4de" stroke="none"/><text x="596.4" y="703.6">non-US Government Debt</text><rect x="932.8" y="693" width="30.4" height="11" fill="url(#lgCorp)" stroke="none"/><rect x="932" y="693" width="32" height="2" fill="#7c4ddb" stroke="none"/><text x="974.4" y="703.6">Corporate Bonds</text><rect x="176.8" y="731" width="30.4" height="11" fill="url(#lgSt)" stroke="none"/><rect x="176" y="731" width="32" height="2" fill="#ee6a45" stroke="none"/><text x="218.4" y="741.6">Stocks</text></g>
</svg>
</body></html>
